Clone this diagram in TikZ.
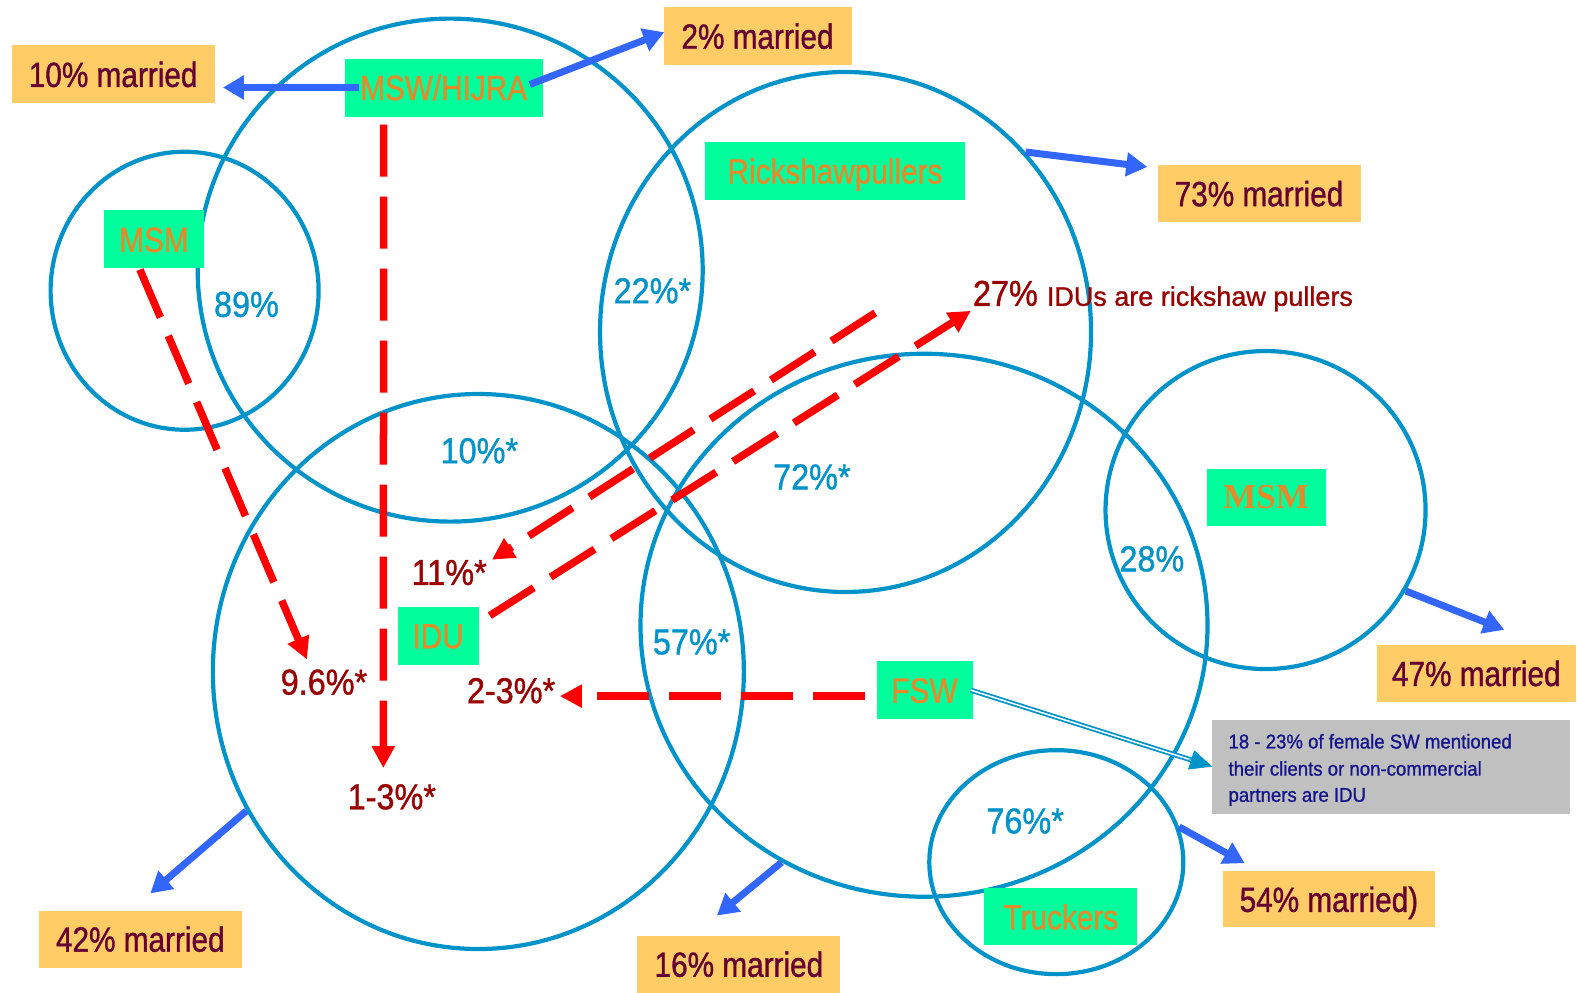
\documentclass[tikz,border=0pt]{standalone}
\usepackage{fontspec}
\setmainfont{Liberation Sans}[FakeStretch=0.85,FakeBold=1]
\newfontfamily\pctfont{Liberation Sans}[FakeStretch=0.9,FakeBold=1]
\newfontfamily\grayfont{Liberation Sans}[FakeStretch=0.93,FakeBold=1]
\newfontfamily\plainsans{Liberation Sans}[FakeBold=1]
\newfontfamily\msmserif{Liberation Serif}
\usetikzlibrary{arrows.meta,shapes.geometric,calc}
\definecolor{cblue}{RGB}{0,147,201}
\definecolor{gbox}{RGB}{0,255,156}
\definecolor{gtext}{RGB}{229,138,42}
\definecolor{obox}{RGB}{255,204,102}
\definecolor{otext}{RGB}{102,0,51}
\definecolor{rtext}{RGB}{153,0,0}
\definecolor{arrblue}{RGB}{51,102,255}
\definecolor{arrred}{RGB}{255,0,0}
\definecolor{graybox}{RGB}{192,192,192}
\definecolor{graytext}{RGB}{20,20,140}
\begin{document}
\begin{tikzpicture}[x=1.006pt,y=-1.006pt,
 ring/.style={ellipse, draw=cblue, line width=4.2pt, inner sep=0pt},
 grn/.style={fill=gbox, text=gtext, inner sep=0pt, minimum height=58pt, text height=25pt, text depth=0pt, font=\fontsize{35}{38}\selectfont},
 org/.style={fill=obox, text=otext, inner sep=0pt, minimum height=58pt, text height=25pt, text depth=0pt, font=\fontsize{35}{38}\selectfont},
 pct/.style={text=cblue, inner sep=0pt, text height=25pt, text depth=0pt, font=\pctfont\fontsize{36}{38}\selectfont},
 rpct/.style={text=rtext, inner sep=0pt, text height=25pt, text depth=0pt, font=\pctfont\fontsize{36}{38}\selectfont},
 gline/.style={text=graytext, inner sep=0pt, anchor=base west, font=\grayfont\fontsize{20}{24}\selectfont},
 barr/.style={draw=arrblue, line width=7pt, -{Triangle[length=21pt,width=23pt]}},
 rarr/.style={draw=arrred, line width=7.5pt, dash pattern=on 52pt off 20pt, -{Triangle[length=22pt,width=22pt]}},
]
\fill[white] (0,0) rectangle (1567.6,986.1);
\useasboundingbox (0,0) rectangle (1567.6,986.1);

% circles
\node[ring, minimum width=268pt, minimum height=278pt] (cMSMl) at (183.5,289) {};
\node[ring, minimum width=505pt, minimum height=503pt] (cMSW) at (447.5,268.5) {};
\node[ring, minimum width=491pt, minimum height=520pt] (cRick) at (840.5,330) {};
\node[ring, minimum width=531pt, minimum height=555pt] (cIDU) at (475.5,667.5) {};
\node[ring, minimum width=567pt, minimum height=543pt] (cFSW) at (918.5,621.5) {};
\node[ring, minimum width=320pt, minimum height=318pt] (cMSMr) at (1258,507) {};
\node[ring, minimum width=254pt, minimum height=224pt] (cTruck) at (1050,857) {};

% labels inside circles
\node[pct] (p89) at (245,302.5) {89\%};
\node[pct] (p22) at (648.5,289) {22\%*};
\node[pct] (p10) at (476.5,448) {10\%*};
\node[pct] (p72) at (807,474) {72\%*};
\node[pct] (p28) at (1145,555.5) {28\%};
\node[pct] (p57) at (687.5,638) {57\%*};
\node[pct] (p76) at (1019,816) {76\%*};

\node[rpct] (l11) at (446.5,569) {11\%*};
\node[rpct] (l96) at (322,678) {9.6\%*};
\node[rpct] (l13) at (389.5,792) {1-3\%*};
\node[rpct] (l23) at (508,686.5) {2-3\%*};
\node[text=rtext, inner sep=0pt, anchor=base west, font=\pctfont\fontsize{36}{38}\selectfont] (l27) at (967,304) {27\% {\plainsans\fontsize{27}{30}\selectfont IDUs are rickshaw pullers}};

% green boxes
\node[grn, minimum width=198pt] (msw) at (441,87) {MSW/HIJRA};
\node[grn, minimum width=100pt] (msml) at (153,238) {MSM};
\node[grn, minimum width=260pt] (rick) at (830,170) {Rickshawpullers};
\node[grn, minimum width=81pt] (idu) at (435.5,632) {IDU};
\node[grn, minimum width=96pt] (fsw) at (919,686) {FSW};
\node[grn, minimum width=119pt, minimum height=57pt, text height=23pt, font=\msmserif\bfseries\fontsize{35}{38}\selectfont] (msmr) at (1258.5,494.5) {MSM};
\node[grn, minimum width=153pt, minimum height=57pt] (truck) at (1054.5,911.5) {Truckers};

% orange boxes
\node[org, minimum width=203pt] (m10) at (112.5,74) {10\% married};
\node[org, minimum width=188pt] (m2) at (753,36) {2\% married};
\node[org, minimum width=203pt, minimum height=57pt] (m73) at (1251.5,192.5) {73\% married};
\node[org, minimum width=199pt, minimum height=57pt] (m47) at (1467.5,669.5) {47\% married};
\node[org, minimum width=212pt, minimum height=56pt] (m54) at (1321,894) {54\% married)};
\node[org, minimum width=203pt, minimum height=57pt] (m16) at (734.5,958.5) {16\% married};
\node[org, minimum width=203pt, minimum height=57pt] (m42) at (139.5,933.5) {42\% married};

% gray note
\node[fill=graybox, minimum width=358pt, minimum height=94pt, inner sep=0pt] (gray) at (1383,762) {};
\node[gline] (g1) at (1221,744) {18 - 23\% of female SW mentioned};
\node[gline] (g2) at (1221,771) {their clients or non-commercial};
\node[gline] (g3) at (1221,797) {partners are IDU};

% red dashed arrows
\coordinate (s11) at (870,311);
\coordinate (f0) at ([shift={(-11pt,-6pt)}]fsw.west);
\draw[rarr] ([shift={(-60pt,-8pt)}]msw.south) -- ([shift={(-8.5pt,16pt)}]l13.north);
\draw[rarr] ([shift={(-14pt,-1pt)}]msml.south) -- ([shift={(-17pt,10pt)}]l96.north);
\draw[rarr] (s11) -- ([xshift=5pt]l11.north east);
\draw[rarr] ([shift={(11pt,-9pt)}]idu.north east) -- ([shift={(-2pt,-5pt)}]l27.base west);
\draw[rarr] (f0) -- ($(l23.east |- f0)+(4.5,0)$);

% blue arrows
\draw[barr] ([xshift=15pt]msw.west) -- ([xshift=8pt]m10.east |- msw.west);
\draw[barr] ([shift={(-13pt,3pt)}]msw.east) -- ([shift={(1pt,4pt)}]m2.west);
\draw[barr] (cRick.45.2) -- ([shift={(-10pt,-2pt)}]m73.north west);
\draw[barr] (cMSMr.-30) -- ([shift={(28pt,15pt)}]m47.north);
\draw[barr] (cTruck.16) -- ([shift={(22pt,8pt)}]m54.north west);
\draw[barr] (cFSW.239.3) -- ([shift={(-22pt,20pt)}]m16.north);
\draw[barr] (cIDU.211.5) -- ([shift={(10pt,17pt)}]m42.north);

% double arrow FSW -> note
\draw[cblue, double=white, double distance=1.5pt, line width=1.8pt, shorten >=16pt] ([xshift=-2pt]fsw.east) -- (gray.west);
\draw[cblue, line width=0.5pt, -{Triangle[length=22pt,width=20pt]}] ($(fsw.east)!0.9!(gray.west)$) -- (gray.west);
\end{tikzpicture}
\end{document}
